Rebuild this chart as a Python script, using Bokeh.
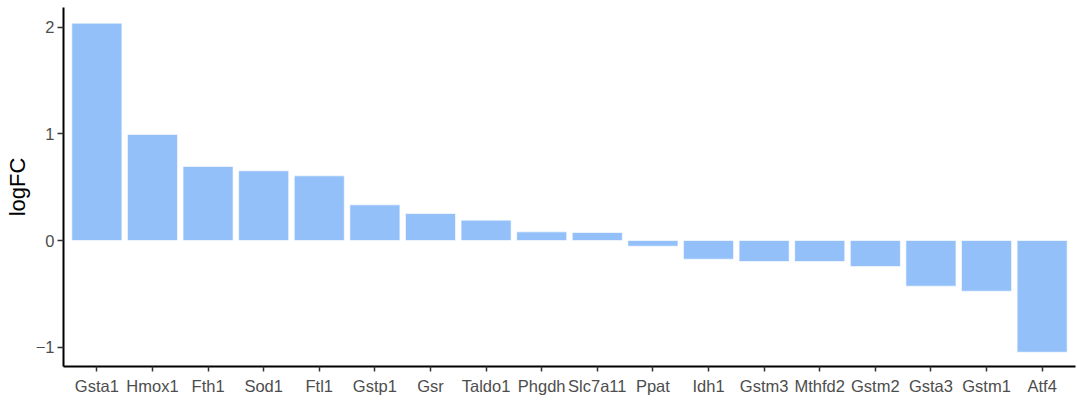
from bokeh.plotting import figure
from bokeh.models import ColumnDataSource, Range1d, FixedTicker
from bokeh.embed import file_html
from bokeh.resources import INLINE

genes = ["Gsta1", "Hmox1", "Fth1", "Sod1", "Ftl1", "Gstp1", "Gsr", "Taldo1", "Phgdh",
         "Slc7a11", "Ppat", "Idh1", "Gstm3", "Mthfd2", "Gstm2", "Gsta3", "Gstm1", "Atf4"]
logfc = [2.037, 0.994, 0.694, 0.653, 0.606, 0.334, 0.253, 0.191, 0.081,
         0.075, -0.053, -0.175, -0.197, -0.197, -0.244, -0.428, -0.475, -1.047]
y_ticks = [-1, 0, 1, 2]

positions = list(range(1, len(genes) + 1))
source = ColumnDataSource(dict(x=positions, top=logfc, gene=genes))

p = figure(width=1077, height=407, output_backend="svg", toolbar_location=None,
           x_range=Range1d(0.4, len(genes) + 0.6), y_range=Range1d(-1.181, 2.184),
           min_border_left=63, min_border_right=2, min_border_top=7, min_border_bottom=41)

p.vbar(x="x", top="top", bottom=0, width=0.9, source=source,
       fill_color="#93C0F8", line_color="white", line_width=0.6)

p.outline_line_color = None
p.xgrid.visible = False
p.ygrid.visible = False
p.background_fill_color = "white"
p.border_fill_color = "white"

# x axis: one tick per gene
p.xaxis.ticker = FixedTicker(ticks=positions)
p.xaxis.major_label_overrides = {i: g for i, g in zip(positions, genes)}
p.xaxis.minor_tick_line_color = None
p.xaxis.axis_line_width = 2
p.xaxis.axis_line_color = "black"
p.xaxis.major_tick_line_color = "#333333"
p.xaxis.major_tick_line_width = 1.5
p.xaxis.major_tick_out = 5
p.xaxis.major_tick_in = 0
p.xaxis.major_label_standoff = 5
p.xaxis.major_label_text_font = "Liberation Sans"
p.xaxis.major_label_text_font_size = "16.5px"
p.xaxis.major_label_text_color = "#4D4D4D"

# y axis
p.yaxis.ticker = FixedTicker(ticks=y_ticks)
p.yaxis.major_label_overrides = {t: (str(t) if t >= 0 else "\u2212" + str(-t)) for t in y_ticks}
p.yaxis.minor_tick_line_color = None
p.yaxis.axis_line_width = 2
p.yaxis.axis_line_color = "black"
p.yaxis.major_tick_line_color = "#333333"
p.yaxis.major_tick_line_width = 1.5
p.yaxis.major_tick_out = 6
p.yaxis.major_tick_in = 0
p.yaxis.major_label_standoff = 3
p.yaxis.major_label_text_font = "Liberation Sans"
p.yaxis.major_label_text_font_size = "16.5px"
p.yaxis.major_label_text_color = "#4D4D4D"
p.yaxis.axis_label = "logFC"
p.yaxis.axis_label_text_font = "Liberation Sans"
p.yaxis.axis_label_text_font_size = "22px"
p.yaxis.axis_label_text_font_style = "normal"
p.yaxis.axis_label_text_color = "black"
p.yaxis.axis_label_standoff = 3

open("out.html", "w").write(file_html(p, INLINE))
